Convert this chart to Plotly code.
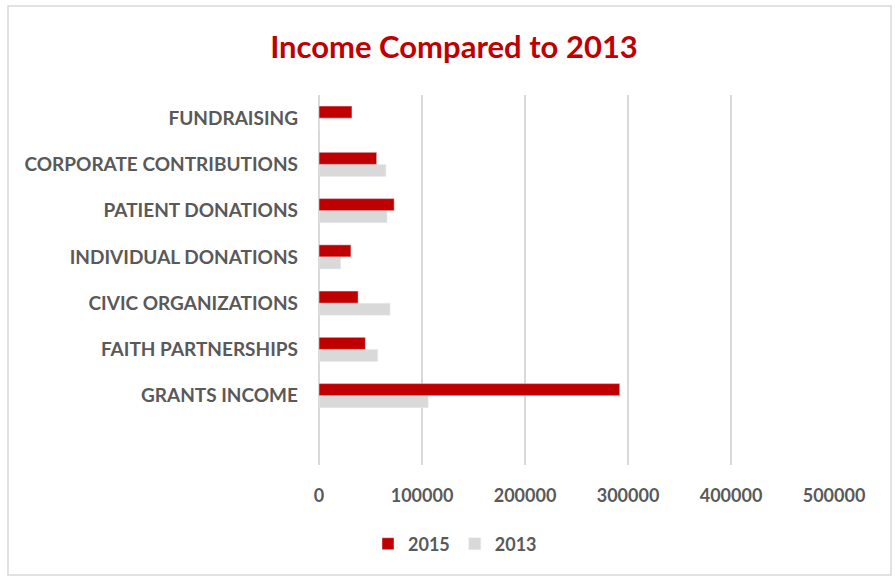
import plotly.graph_objects as go

categories = ["GRANTS INCOME", "FAITH PARTNERSHIPS", "CIVIC ORGANIZATIONS",
              "INDIVIDUAL DONATIONS", "PATIENT DONATIONS",
              "CORPORATE CONTRIBUTIONS", "FUNDRAISING"]
values_2015 = [292000, 45000, 38000, 31000, 73000, 56000, 32000]
values_2013 = [106000, 57000, 69000, 21000, 66000, 65000, 0]
x_ticks = [0, 100000, 200000, 300000, 400000, 500000]

RED = "#C00000"
GRAY = "#D9D9D9"
TXT = "#595959"
FONT = "Lato"

fig = go.Figure()
fig.add_trace(go.Bar(y=categories, x=values_2013, orientation="h", name="<b>2013</b>",
                     marker=dict(color=GRAY), legendrank=2))
fig.add_trace(go.Bar(y=categories, x=values_2015, orientation="h", name="<b>2015</b>",
                     marker=dict(color=RED), legendrank=1))

W, H = 895, 576
L, R, T, B = 319, 61, 95, 111
pw, ph = W - L - R, H - T - B

def px_x(p):
    return (p - L) / pw

def px_y(p):
    return (H - B - p) / ph

fig.update_layout(
    width=W, height=H,
    margin=dict(l=L, r=R, t=T, b=B),
    paper_bgcolor="white", plot_bgcolor="white",
    barmode="group", bargap=0.48, bargroupgap=0,
    title=dict(text="<b>Income Compared to 2013</b>", x=px_x(454), xref="paper",
               xanchor="center", y=1 - 47 / H, yanchor="middle",
               font=dict(family=FONT, size=31, color=RED)),
    font=dict(family=FONT, color=TXT),
    xaxis=dict(range=[0, 500000], tickvals=x_ticks,
               ticktext=[f"<b>{v}</b>" for v in x_ticks],
               showgrid=True, gridcolor=GRAY, gridwidth=1.5,
               zeroline=True, zerolinecolor=GRAY, zerolinewidth=1.5,
               showline=False, ticks="", ticklabelstandoff=18,
               tickfont=dict(family=FONT, size=18, color=TXT), fixedrange=True),
    yaxis=dict(categoryorder="array", categoryarray=categories,
               range=[-1.5, 6.5], showgrid=False, zeroline=False, showline=False,
               ticks="", ticklabelstandoff=20, fixedrange=True,
               tickvals=categories, ticktext=[f"<b>{c}</b>" for c in categories],
               tickfont=dict(family=FONT, size=19, color=TXT)),
    legend=dict(orientation="h", x=px_x(455), xanchor="center",
                xref="paper", y=px_y(544), yanchor="middle",
                font=dict(family=FONT, size=18, color=TXT),
                itemwidth=30, traceorder="normal"),
    showlegend=True,
)

fig.add_shape(type="rect", xref="paper", yref="paper",
              x0=px_x(8), x1=px_x(891), y0=px_y(575), y1=px_y(6),
              line=dict(color="#D9D9D9", width=1.5), fillcolor="rgba(0,0,0,0)",
              layer="below")

fig.write_html("out.html", config={"displayModeBar": False},
               post_script="document.body.style.margin='0';document.body.style.overflow='hidden';")
